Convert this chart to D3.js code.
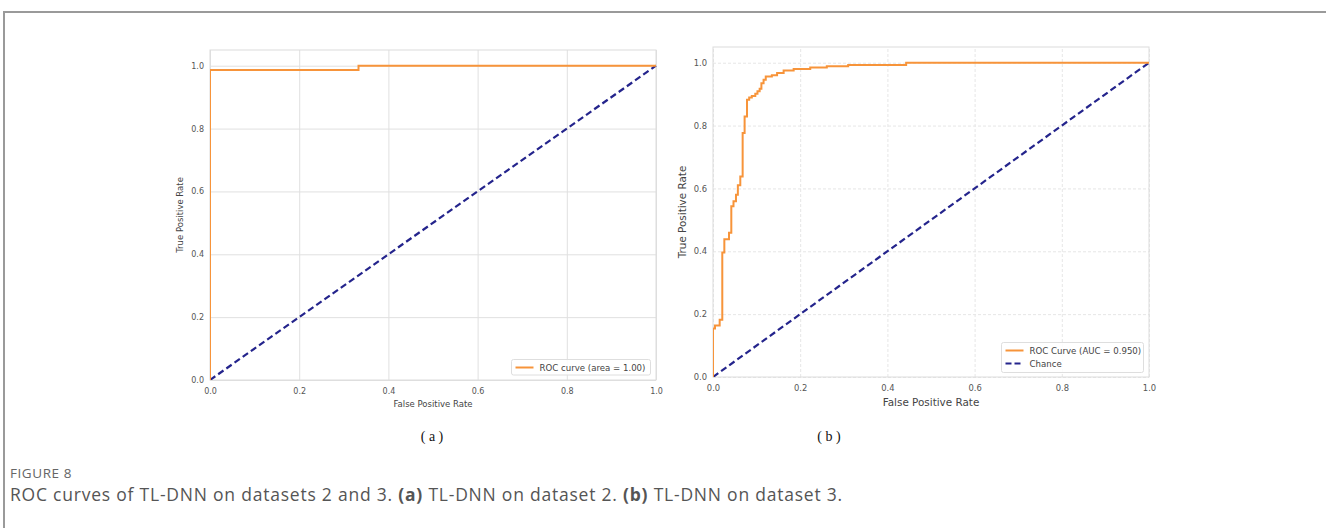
<!DOCTYPE html>
<html>
<head>
    <meta charset="utf-8">
    <title>ROC curves of TL-DNN</title>
    <script src="https://d3js.org/d3.v7.min.js"></script>
    <style>
        html, body {
            margin: 0;
            background: white;
            overflow: hidden;
        }
        .tick text {
            fill: #555;
        }
    </style>
</head>
<body>
    <svg id="svg"></svg>
    <script>
        // dataset 2 (panel a)
        const fprA = [0, 0, 0.333, 1.0];
        const tprA = [0, 0.986, 1.0, 1.0];

        // dataset 3 (panel b)
        const fprB = [0, 0, 0.0046, 0.0153, 0.0213, 0.026, 0.0367, 0.042, 0.047, 0.0527, 0.057, 0.0626,
            0.068, 0.0725, 0.078, 0.083, 0.089, 0.097, 0.102, 0.107, 0.111, 0.116, 0.121, 0.135, 0.147,
            0.162, 0.185, 0.223, 0.261, 0.31, 0.443, 1.0];
        const tprB = [0, 0.154, 0.164, 0.182, 0.396, 0.438, 0.459, 0.543, 0.559, 0.58, 0.61, 0.638,
            0.776, 0.829, 0.882, 0.889, 0.894, 0.901, 0.909, 0.917, 0.935, 0.946, 0.956, 0.96, 0.967,
            0.975, 0.98, 0.985, 0.989, 0.993, 1.0, 1.0];

        const chance = [0, 1];
        const ticks = [0, 0.2, 0.4, 0.6, 0.8, 1.0];
        const legendA = ["ROC curve (area = 1.00)"];
        const legendB = ["ROC Curve (AUC = 0.950)", "Chance"];

        const orange = "#f7943a";
        const navy = "#24248c";

        const width = 1326, height = 528;
        const svg = d3.select("#svg")
            .attr("width", width)
            .attr("height", height);

        // page frame (top + left rule)
        svg.append("path")
            .attr("d", `M4,${height} L4,12 L${width},12`)
            .attr("fill", "none")
            .attr("stroke", "#9a9a9a")
            .attr("stroke-width", 2);

        function drawPanel(opts) {
            const x = d3.scaleLinear().domain([0, 1]).range([opts.left, opts.right]);
            const y = d3.scaleLinear().domain([0, 1.05]).range([opts.bottom, opts.top]);
            const g = svg.append("g");

            // grid
            g.append("g")
                .attr("transform", `translate(0,${opts.bottom})`)
                .call(d3.axisBottom(x).tickValues(ticks).tickSize(-(opts.bottom - opts.top)).tickFormat(""))
                .call(a => a.select(".domain").remove())
                .selectAll("line")
                .attr("stroke", opts.gridColor)
                .attr("stroke-dasharray", opts.gridDash);
            g.append("g")
                .attr("transform", `translate(${opts.left},0)`)
                .call(d3.axisLeft(y).tickValues(ticks).tickSize(-(opts.right - opts.left)).tickFormat(""))
                .call(a => a.select(".domain").remove())
                .selectAll("line")
                .attr("stroke", opts.gridColor)
                .attr("stroke-dasharray", opts.gridDash);

            // frame
            g.append("rect")
                .attr("x", opts.left).attr("y", opts.top)
                .attr("width", opts.right - opts.left)
                .attr("height", opts.bottom - opts.top)
                .attr("fill", "none")
                .attr("stroke", "#dcdcdc")
                .attr("stroke-width", 1);

            // tick labels
            const xAxis = g.append("g")
                .attr("transform", `translate(0,${opts.bottom})`)
                .call(d3.axisBottom(x).tickValues(ticks).tickSize(0).tickPadding(opts.tickPad + 2).tickFormat(d3.format(".1f")));
            const yAxis = g.append("g")
                .attr("transform", `translate(${opts.left},0)`)
                .call(d3.axisLeft(y).tickValues(ticks).tickSize(0).tickPadding(opts.tickPad).tickFormat(d3.format(".1f")));
            [xAxis, yAxis].forEach(a => {
                a.select(".domain").remove();
                a.selectAll("text")
                    .style("font-family", "DejaVu Sans")
                    .style("font-size", opts.tickSize + "px");
            });

            // axis labels
            g.append("text")
                .attr("x", (opts.left + opts.right) / 2)
                .attr("y", opts.xLabelY)
                .attr("text-anchor", "middle")
                .style("font-family", "DejaVu Sans")
                .style("font-size", opts.labelSize + "px")
                .attr("fill", "#444")
                .text("False Positive Rate");
            g.append("text")
                .attr("transform", `translate(${opts.yLabelX},${(opts.top + opts.bottom) / 2}) rotate(-90)`)
                .attr("text-anchor", "middle")
                .style("font-family", "DejaVu Sans")
                .style("font-size", opts.labelSize + "px")
                .attr("fill", "#444")
                .text("True Positive Rate");

            // curves
            const clipId = "clip" + opts.id;
            svg.append("clipPath").attr("id", clipId)
                .append("rect")
                .attr("x", opts.left).attr("y", opts.top - 2)
                .attr("width", opts.right - opts.left + 2)
                .attr("height", opts.bottom - opts.top + 2);

            const roc = d3.line()
                .curve(d3.curveStepAfter)
                .x(d => x(d[0]))
                .y(d => y(d[1]));
            const diag = d3.line()
                .x(d => x(d))
                .y(d => y(d));

            g.append("path")
                .attr("clip-path", `url(#${clipId})`)
                .attr("d", diag(chance))
                .attr("fill", "none")
                .attr("stroke", navy)
                .attr("stroke-width", 2.2)
                .attr("stroke-dasharray", "6.5,3.5");

            g.append("path")
                .attr("clip-path", `url(#${clipId})`)
                .attr("d", roc(d3.zip(opts.fpr, opts.tpr)))
                .attr("fill", "none")
                .attr("stroke", orange)
                .attr("stroke-width", 2);

            // legend
            const lg = g.append("g");
            lg.append("rect")
                .attr("x", opts.legend.x).attr("y", opts.legend.y)
                .attr("width", opts.legend.w).attr("height", opts.legend.h)
                .attr("rx", 2)
                .attr("fill", "white")
                .attr("fill-opacity", 0.85)
                .attr("stroke", "#dedede");
            opts.legend.labels.forEach((label, i) => {
                const ly = opts.legend.y + 8 + i * 13;
                lg.append("line")
                    .attr("x1", opts.legend.x + 4).attr("x2", opts.legend.x + 22)
                    .attr("y1", ly).attr("y2", ly)
                    .attr("stroke", i === 0 ? orange : navy)
                    .attr("stroke-width", 2)
                    .attr("stroke-dasharray", i === 0 ? null : "6,3");
                lg.append("text")
                    .attr("x", opts.legend.x + 28)
                    .attr("y", ly + 3)
                    .style("font-family", "DejaVu Sans")
                    .style("font-size", "8.6px")
                    .attr("fill", "#444")
                    .text(label);
            });
        }

        drawPanel({
            id: "a", left: 210, right: 656, top: 50, bottom: 380,
            fpr: fprA, tpr: tprA,
            gridColor: "#e0e0e0", gridDash: null,
            tickSize: 8, tickPad: 6, labelSize: 8.5,
            xLabelY: 407, yLabelX: 183,
            legend: { x: 511.5, y: 359.5, w: 139, h: 15.5, labels: legendA }
        });

        drawPanel({
            id: "b", left: 713, right: 1149, top: 47, bottom: 377,
            fpr: fprB, tpr: tprB,
            gridColor: "#e6e6e6", gridDash: "3,2",
            tickSize: 8.4, tickPad: 6, labelSize: 10.4,
            xLabelY: 406, yLabelX: 686,
            legend: { x: 1001.5, y: 342.5, w: 142, h: 30, labels: legendB }
        });

        // sub-captions
        [["( a )", 432], ["( b )", 829]].forEach(([t, cx]) => {
            svg.append("text")
                .attr("x", cx).attr("y", 441)
                .attr("text-anchor", "middle")
                .style("font-family", "Liberation Serif")
                .style("font-size", "14px")
                .attr("fill", "#111")
                .text(t);
        });

        // stretch a caption line to the width it takes in the figure
        function fitWidth(sel, target) {
            const w = sel.node().getComputedTextLength();
            const n = sel.text().length;
            sel.style("letter-spacing", ((target - w) / n) + "px");
        }

        // figure caption
        const fig = svg.append("text")
            .attr("x", 10).attr("y", 478)
            .style("font-family", "Open Sans")
            .style("font-size", "13.5px")
            .attr("fill", "#666")
            .text("FIGURE 8");
        fitWidth(fig, 62);

        const cap = svg.append("text")
            .attr("x", 10).attr("y", 501)
            .style("font-family", "Open Sans")
            .style("font-size", "17.5px")
            .attr("fill", "#555");
        cap.append("tspan").text("ROC curves of TL-DNN on datasets 2 and 3. ");
        cap.append("tspan").style("font-weight", "bold").text("(a)");
        cap.append("tspan").text(" TL-DNN on dataset 2. ");
        cap.append("tspan").style("font-weight", "bold").text("(b)");
        cap.append("tspan").text(" TL-DNN on dataset 3.");
        fitWidth(cap, 833);
    </script>
</body>
</html>
